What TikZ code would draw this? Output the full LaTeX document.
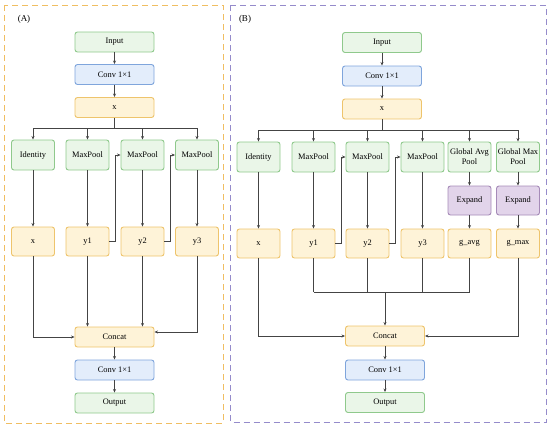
\documentclass[tikz,border=0pt]{standalone}
\usepackage{fontspec}
\setmainfont{Liberation Serif}
\usetikzlibrary{arrows.meta}
\definecolor{gfill}{HTML}{EAF6E8}
\definecolor{gline}{HTML}{8FC98C}
\definecolor{bfill}{HTML}{E3EDFB}
\definecolor{bline}{HTML}{7FA5DC}
\definecolor{yfill}{HTML}{FEF3D8}
\definecolor{yline}{HTML}{EEC46C}
\definecolor{pfill}{HTML}{E2D4EA}
\definecolor{pline}{HTML}{A68BB8}
\definecolor{frameA}{HTML}{F0BE62}
\definecolor{frameB}{HTML}{958BCB}
\definecolor{conn}{HTML}{444444}
\tikzset{
  box/.style={draw, rounded corners=2.5pt, line width=0.9pt, inner sep=0pt, align=center,
    font=\fontsize{8.4}{10}\selectfont},
  wide/.style={box, minimum width=79pt, minimum height=20pt},
  small/.style={box, minimum width=43pt, minimum height=30pt},
  smallb/.style={box, minimum width=43pt, minimum height=29pt},
  gbox/.style={fill=gfill, draw=gline},
  bbox/.style={fill=bfill, draw=bline},
  ybox/.style={fill=yfill, draw=yline},
  pbox/.style={fill=pfill, draw=pline},
  line/.style={draw=conn, line width=0.8pt},
  arr/.style={line, -{Stealth[length=3.5pt,width=3pt]}},
  frm/.style={line width=0.9pt, dash pattern=on 6pt off 4pt},
  lbl/.style={font=\fontsize{9}{10}\selectfont}
}
\begin{document}
\begin{tikzpicture}[x=1pt,y=-1pt]
\useasboundingbox (0,0) rectangle (550,429);
% frames
\draw[frm, draw=frameA] (4,5) rectangle (223,423);
\draw[frm, draw=frameB] (230.5,5) rectangle (546,422);
\node[lbl] (labA) at (24,19) {(A)};
\node[lbl] (labB) at (245,19) {(B)};

% ---------------- Panel A ----------------
\node[wide,gbox] (inA) at (114.5,42) {Input};
\node[wide,bbox] (convA) at (114.5,74.5) {Conv 1×1};
\node[wide,ybox] (xA) at (114.5,107.5) {x};
\coordinate (busA) at (114.5,128);
\node[small,gbox] (idA) at (33,155) {Identity};
\node[small,gbox] (mp1A) at (87.5,155) {MaxPool};
\node[small,gbox] (mp2A) at (142.5,155) {MaxPool};
\node[small,gbox] (mp3A) at (197,155) {MaxPool};
\node[smallb,ybox] (x2A) at (33,241.5) {x};
\node[smallb,ybox] (y1A) at (87.5,241.5) {y1};
\node[smallb,ybox] (y2A) at (142.5,241.5) {y2};
\node[smallb,ybox] (y3A) at (197,241.5) {y3};
\node[wide,ybox] (catA) at (114.5,337) {Concat};
\node[wide,bbox] (conv2A) at (114.5,370) {Conv 1×1};
\node[wide,gbox] (outA) at (114.5,403) {Output};

\draw[arr] (inA) -- (convA);
\draw[arr] (convA) -- (xA);
\draw[line] (xA.south) -- (busA);
\draw[line] (idA.north |- busA) -- (mp3A.north |- busA);
\foreach \n in {idA,mp1A,mp2A,mp3A} \draw[arr] (\n.north |- busA) -- (\n.north);
\draw[arr] (idA) -- (x2A);
\draw[arr] (mp1A) -- (y1A);
\draw[arr] (mp2A) -- (y2A);
\draw[arr] (mp3A) -- (y3A);
\draw[arr] (y1A.east) -- ++(6,0) |- (mp2A.west);
\draw[arr] (y2A.east) -- ++(6,0) |- (mp3A.west);
\draw[arr] (x2A.south) |- (catA.west);
\draw[arr] (y1A.south) -- (y1A.south |- catA.north);
\draw[arr] (y2A.south) -- (y2A.south |- catA.north);
\draw[arr] (y3A.south) |- ([yshift=5pt]catA.east);
\draw[arr] (catA) -- (conv2A);
\draw[arr] (conv2A) -- (outA);

% ---------------- Panel B ----------------
\node[wide,gbox] (inB) at (382,42.5) {Input};
\node[wide,bbox] (convB) at (382,76) {Conv 1×1};
\node[wide,ybox] (xB) at (382,109) {x};
\coordinate (busB) at (382,130);
\node[small,gbox] (idB) at (258.5,157) {Identity};
\node[small,gbox] (mp1B) at (313.5,157) {MaxPool};
\node[small,gbox] (mp2B) at (367.5,157) {MaxPool};
\node[small,gbox] (mp3B) at (422.5,157) {MaxPool};
\node[small,gbox] (gapB) at (469.5,157) {Global Avg\\Pool};
\node[small,gbox] (gmpB) at (518,157) {Global Max\\Pool};
\node[smallb,pbox] (exaB) at (469.5,200.5) {Expand};
\node[smallb,pbox] (exmB) at (518,200.5) {Expand};
\node[smallb,ybox] (x2B) at (258.5,243.5) {x};
\node[smallb,ybox] (y1B) at (313.5,243.5) {y1};
\node[smallb,ybox] (y2B) at (367.5,243.5) {y2};
\node[smallb,ybox] (y3B) at (422.5,243.5) {y3};
\node[smallb,ybox] (gavgB) at (469.5,243.5) {g\_avg};
\node[smallb,ybox] (gmaxB) at (518,243.5) {g\_max};
\node[wide,ybox] (catB) at (385,336) {Concat};
\node[wide,bbox] (conv2B) at (385,370) {Conv 1×1};
\node[wide,gbox] (outB) at (385,402.5) {Output};
\coordinate (mergeB) at (385,292);

\draw[arr] (inB) -- (convB);
\draw[arr] (convB) -- (xB);
\draw[line] (xB.south) -- (busB);
\draw[line] (idB.north |- busB) -- (gmpB.north |- busB);
\foreach \n in {idB,mp1B,mp2B,mp3B,gapB,gmpB} \draw[arr] (\n.north |- busB) -- (\n.north);
\draw[arr] (idB) -- (x2B);
\draw[arr] (mp1B) -- (y1B);
\draw[arr] (mp2B) -- (y2B);
\draw[arr] (mp3B) -- (y3B);
\draw[arr] (gapB) -- (exaB);
\draw[arr] (gmpB) -- (exmB);
\draw[arr] (exaB) -- (gavgB);
\draw[arr] (exmB) -- (gmaxB);
\draw[arr] (y1B.east) -- ++(6,0) |- (mp2B.west);
\draw[arr] (y2B.east) -- ++(6,0) |- (mp3B.west);
\foreach \n in {y1B,y2B,y3B,gavgB} \draw[line] (\n.south) -- (\n.south |- mergeB);
\draw[line] (y1B.south |- mergeB) -- (gavgB.south |- mergeB);
\draw[arr] (mergeB) -- (catB.north);
\draw[arr] (x2B.south) |- (catB.west);
\draw[arr] (gmaxB.south) |- (catB.east);
\draw[arr] (catB) -- (conv2B);
\draw[arr] (conv2B) -- (outB);
\end{tikzpicture}
\end{document}
